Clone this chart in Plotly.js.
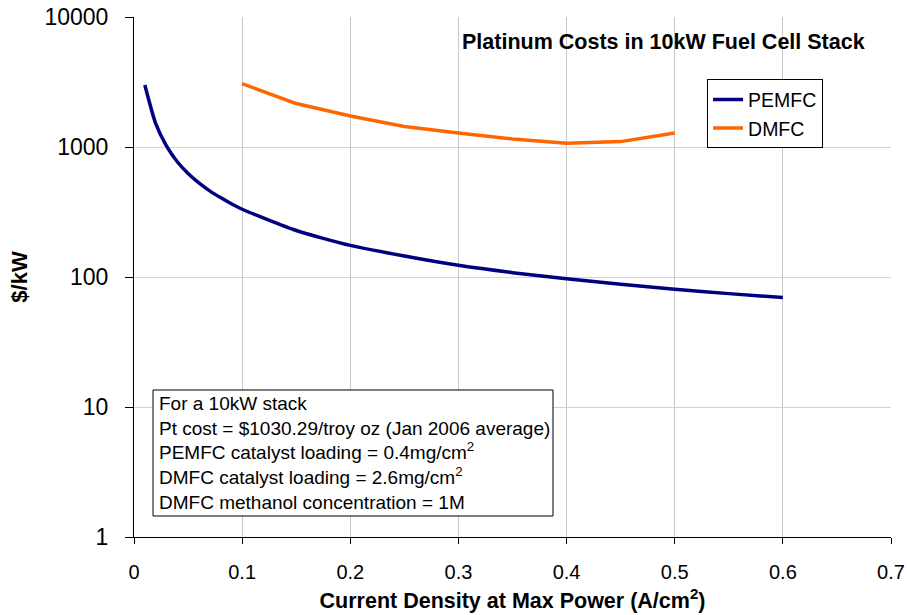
<!DOCTYPE html>
<html>
<head>
<meta charset="utf-8">
<script src="https://cdn.plot.ly/plotly-3.0.1.min.js"></script>
<style>html,body{margin:0;padding:0;background:#fff;}#chart{width:907px;height:615px;}</style>
</head>
<body>
<div id="chart"></div>
<script>
// PEMFC series
const pemfcX = [0.01, 0.02, 0.03, 0.04, 0.05, 0.06, 0.07, 0.08, 0.09, 0.1, 0.15, 0.2, 0.25, 0.3, 0.35, 0.4, 0.45, 0.5, 0.55, 0.6];
const pemfcY = [3000, 1520, 1020, 770, 626, 530, 460, 408, 366, 332, 228, 175, 145, 123, 108, 97, 88, 80.5, 74.5, 69.5];
// DMFC series
const dmfcX = [0.1, 0.15, 0.2, 0.25, 0.3, 0.35, 0.4, 0.45, 0.5];
const dmfcY = [3070, 2160, 1730, 1440, 1280, 1150, 1070, 1100, 1280];
// axis ticks
const yTickVals = [1, 10, 100, 1000, 10000];
const yTickText = ["1", "10", "100", "1000", "10000"];
const xTickVals = [0, 0.1, 0.2, 0.3, 0.4, 0.5, 0.6, 0.7];
const xTickText = ["0", "0.1", "0.2", "0.3", "0.4", "0.5", "0.6", "0.7"];
const noteLines = [
  "For a 10kW stack",
  "Pt cost = $1030.29/troy oz (Jan 2006 average)",
  "PEMFC catalyst loading = 0.4mg/cm<sup>2</sup>",
  "DMFC catalyst loading = 2.6mg/cm<sup>2</sup>",
  "DMFC methanol concentration = 1M"
];

const FONT = "Arial, 'Liberation Sans', sans-serif";

const traces = [
  {x: pemfcX, y: pemfcY, mode: "lines", name: "PEMFC", line: {color: "#000080", width: 3.5, shape: "spline", smoothing: 0.6}},
  {x: dmfcX, y: dmfcY, mode: "lines", name: "DMFC", line: {color: "#FF6600", width: 3.5}}
];

const layout = {
  width: 907, height: 615,
  margin: {l: 134, r: 16, t: 17, b: 78, pad: 0},
  paper_bgcolor: "#ffffff", plot_bgcolor: "#ffffff",
  font: {family: FONT, color: "#000"},
  showlegend: true,
  legend: {
    x: 0.757, y: 0.88, xanchor: "left", yanchor: "top",
    bgcolor: "#ffffff", bordercolor: "#000", borderwidth: 1,
    font: {family: FONT, size: 19.5, color: "#000"},
    itemwidth: 30,
    tracegroupgap: 0
  },
  xaxis: {
    range: [0, 0.7], tickvals: xTickVals, ticktext: xTickText,
    showgrid: true, gridcolor: "#c8c8c8", gridwidth: 1,
    showline: true, linecolor: "#000", linewidth: 1,
    ticks: "outside", ticklen: 6, tickcolor: "#000",
    ticklabelstandoff: 11,
    tickfont: {family: FONT, size: 20, color: "#000"},
    zeroline: false,
    title: {text: "<b>Current Density at Max Power (A/cm<sup>2</sup>)</b>", font: {family: FONT, size: 21.5, color: "#000"}, standoff: 10}
  },
  yaxis: {
    type: "log", range: [0, 4], tickvals: yTickVals, ticktext: yTickText,
    showgrid: true, gridcolor: "#d4d4d4", gridwidth: 1,
    showline: true, linecolor: "#000", linewidth: 1,
    ticks: "outside", ticklen: 8, tickcolor: "#000",
    ticklabelstandoff: 12,
    tickfont: {family: FONT, size: 23, color: "#000"},
    zeroline: false,
    title: {text: "<b>$/kW</b>", font: {family: FONT, size: 22, color: "#000"}, standoff: 10}
  },
  shapes: [
    {type: "rect", xref: "paper", yref: "paper", x0: 0.0251, x1: 0.5535, y0: 0.0404, y1: 0.2827,
     line: {color: "#000", width: 1}, fillcolor: "#ffffff", layer: "above"}
  ],
  annotations: [
    {xref: "paper", yref: "paper", x: 0.699, y: 0.952, xanchor: "center", yanchor: "middle",
     text: "<b>Platinum Costs in 10kW Fuel Cell Stack</b>", showarrow: false,
     font: {family: FONT, size: 21.5, color: "#000"}},
    {xref: "paper", yref: "paper", x: 0.0304, y: 0.1615, xanchor: "left", yanchor: "middle", align: "left",
     text: noteLines.join("<br>"), showarrow: false,
     font: {family: FONT, size: 19, color: "#000"}}
  ]
};

Plotly.newPlot("chart", traces, layout, {displayModeBar: false, staticPlot: true});
</script>
</body>
</html>
